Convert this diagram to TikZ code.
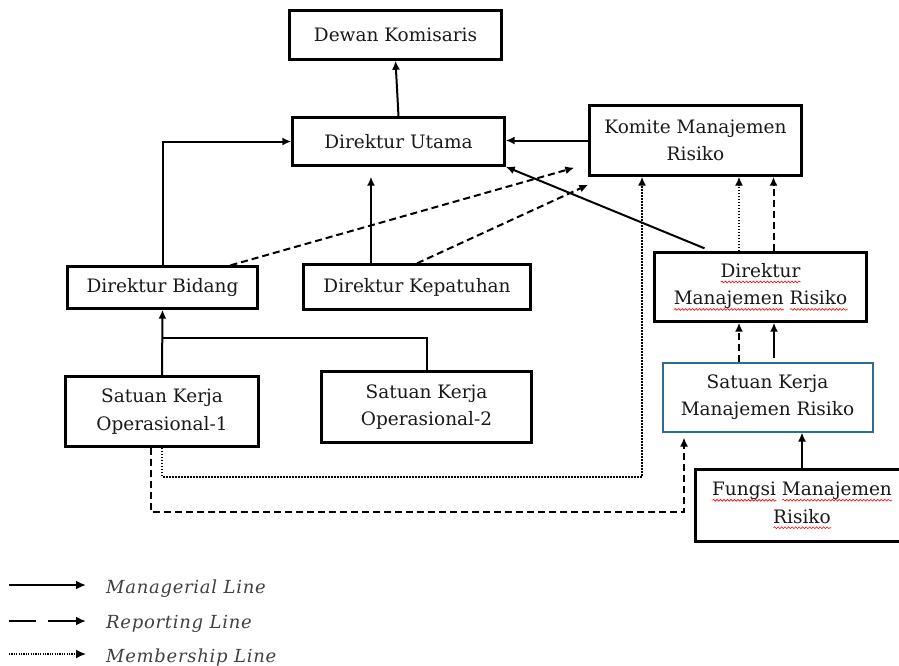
\documentclass[tikz,border=0pt]{standalone}
\usepackage{fontspec}
\setmainfont{DejaVu Serif}
\newfontfamily\legfont{DejaVu Serif}[LetterSpace=4]
\usetikzlibrary{arrows.meta,decorations.pathmorphing}
\definecolor{skblue}{RGB}{46,108,140}
\newlength\spellwd
\newcommand\spell[1]{\settowidth\spellwd{#1}\rlap{\tikz[baseline=0pt]\draw[red, line width=0.6pt, solid, decorate,
  decoration={snake, amplitude=0.9pt, segment length=3.5pt}] (0pt,-4.5pt) -- (\spellwd,-4.5pt);}#1}

\tikzset{
  box/.style={draw, line width=2.4pt, align=center, inner sep=2pt,
    font=\fontsize{18.5}{27.5}\selectfont, text=black!90},
  mline/.style={line width=2pt, -{Latex[length=9pt,width=8pt]}},
  rline/.style={mline, dash pattern=on 7pt off 4pt},
  bline/.style={line width=1.6pt, dash pattern=on 1.6pt off 1.4pt, -{Latex[length=9pt,width=8pt]}},
  legline/.style={line width=2.8pt, -{Latex[length=10pt,width=9pt]}},
  leg/.style={anchor=base west, inner sep=0pt, text=black!75,
    font=\legfont\itshape\fontsize{18}{20}\selectfont}
}

\begin{document}
\begin{tikzpicture}[x=1pt,y=-1pt]
\path[use as bounding box, clip] (0,0) rectangle (899,665);

% boxes
\node[box, minimum width=212pt, minimum height=49pt] (dk) at (395.5,35) {Dewan Komisaris};
\node[box, minimum width=212pt, minimum height=48pt] (du) at (398.5,141.5) {Direktur Utama};
\node[box, minimum width=212pt, minimum height=70pt] (kmr) at (695.5,140.5) {Komite Manajemen\\Risiko};
\node[box, minimum width=190pt, minimum height=42pt] (db) at (162.5,287.5) {Direktur Bidang};
\node[box, minimum width=227pt, minimum height=45pt] (dkp) at (417,287) {Direktur Kepatuhan};
\node[box, minimum width=212pt, minimum height=69pt] (dmr) at (760.5,287) {\spell{Direktur}\\\spell{Manajemen} \spell{Risiko}};
\node[box, minimum width=193pt, minimum height=70pt] (sko1) at (162,411.5) {Satuan Kerja\\Operasional-1};
\node[box, minimum width=210pt, minimum height=71pt] (sko2) at (426.5,407) {Satuan Kerja\\Operasional-2};
\node[box, draw=skblue, line width=2pt, minimum width=210pt, minimum height=69pt] (skmr) at (767.5,397) {Satuan Kerja\\Manajemen Risiko};
\node[box, minimum width=213pt, minimum height=72pt] (fmr) at (802,505.5) {\spell{Fungsi} \spell{Manajemen}\\\spell{Risiko}};

\coordinate (jn) at (162,338);
\coordinate (kp) at ([yshift=-10pt]du.south);

% managerial lines
\draw[mline] (du.north) -- (dk.south);
\draw[mline] (kmr.west) -- (kmr.west -| du.east);
\draw[mline] (db.north) |- (du.west);
\draw[mline] ([xshift=-46pt]dkp.north) -- ([xshift=-46pt]dkp.north |- kp);
\draw[mline] ([xshift=-56pt,yshift=3pt]dmr.north) -- (du.south east);
\draw[mline] ([xshift=6.5pt,yshift=4pt]skmr.north) -- ([xshift=6.5pt]skmr.north |- dmr.south);
\draw[mline] (fmr.north) -- (fmr.north |- skmr.south);
\draw[mline] (sko1.north) -- (db.south);
\draw[line width=2pt] (sko2.north) |- (jn);

% reporting lines
\draw[rline] ([xshift=68pt]db.north) -- ([xshift=-14pt,yshift=9pt]kmr.south west);
\draw[rline] (dkp.north) -- ([yshift=-8pt]kmr.south west);
\draw[rline] ([xshift=13pt]dmr.north) -- ([xshift=13pt]dmr.north |- kmr.south);
\draw[rline] ([xshift=-28.5pt]skmr.north) -- ([xshift=-28.5pt]skmr.north |- dmr.south);
\draw[rline] ([xshift=-11pt]sko1.south) -- ++(0,64) -| ([xshift=-83.5pt,yshift=-5pt]skmr.south);

% membership lines
\draw[bline] ([xshift=-21.5pt]dmr.north) -- ([xshift=-21.5pt]dmr.north |- kmr.south);
\draw[bline] (sko1.south) -- ++(0,29) -| ([xshift=-53.5pt]kmr.south);

% legend
\node[leg] (lgm) at (106,593) {Managerial Line};
\node[leg] (lgr) at (106,628) {Reporting Line};
\node[leg] (lgb) at (106,662) {Membership Line};
\draw[legline] ([xshift=-97pt,yshift=8pt]lgm.base west) -- ([xshift=-20pt,yshift=8pt]lgm.base west);
\draw[legline, dash pattern=on 27pt off 12pt on 40pt off 0pt] ([xshift=-97pt,yshift=7pt]lgr.base west) -- ([xshift=-20pt,yshift=7pt]lgr.base west);
\draw[legline, line width=1.6pt, dash pattern=on 1.2pt off 1.2pt] ([xshift=-97pt,yshift=8pt]lgb.base west) -- ([xshift=-20pt,yshift=8pt]lgb.base west);

\end{tikzpicture}
\end{document}
